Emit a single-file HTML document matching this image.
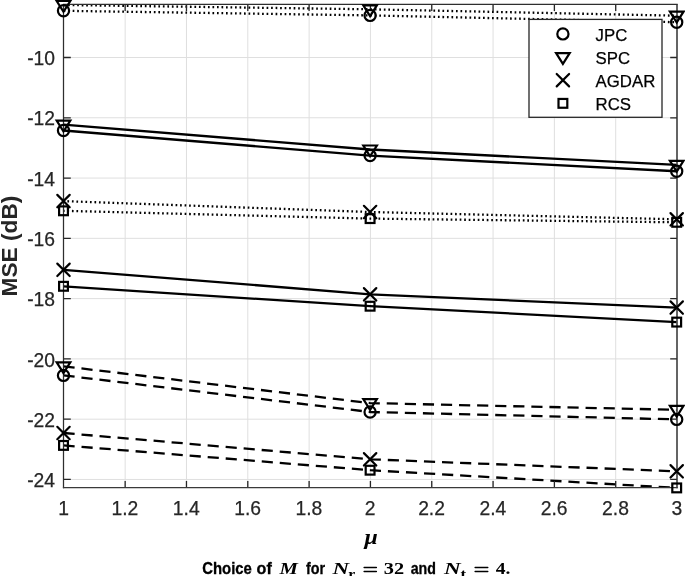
<!DOCTYPE html><html><head><meta charset="utf-8"><style>html,body{margin:0;padding:0;background:#fff;width:685px;height:576px;overflow:hidden}svg{display:block;will-change:transform}text{font-family:"Liberation Sans",sans-serif}</style></head><body>
<svg width="685" height="576" viewBox="0 0 685 576">
<rect width="685" height="576" fill="#fff"/>
<path d="M125.15 4.3V487.6M186.47 4.3V487.6M247.79 4.3V487.6M309.11 4.3V487.6M370.43 4.3V487.6M431.75 4.3V487.6M493.07 4.3V487.6M554.39 4.3V487.6M615.71 4.3V487.6M63.5 57.50H676.7M63.5 117.78H676.7M63.5 178.06H676.7M63.5 238.34H676.7M63.5 298.62H676.7M63.5 358.90H676.7M63.5 419.18H676.7M63.5 479.46H676.7" stroke="#dfdfdf" stroke-width="1" fill="none"/>
<defs><clipPath id="ax"><rect x="63.5" y="4.3" width="613.2" height="483.3"/></clipPath></defs>
<g fill="none" stroke="#000" stroke-width="2.3" clip-path="url(#ax)">
<polyline points="63.50,5.00 370.10,9.30 676.70,15.70" stroke-dasharray="1.7 2.81" stroke-dashoffset="-0.15"/>
<polyline points="63.50,10.80 370.10,15.40 676.70,22.20" stroke-dasharray="1.7 2.81" stroke-dashoffset="-0.15"/>
<polyline points="63.50,124.70 370.10,149.50 676.70,164.85"/>
<polyline points="63.50,130.50 370.10,155.60 676.70,171.25"/>
<polyline points="63.50,201.10 370.10,212.00 676.70,219.30" stroke-dasharray="1.7 2.81" stroke-dashoffset="0.60"/>
<polyline points="63.50,210.80 370.10,218.60 676.70,222.30" stroke-dasharray="1.7 2.81" stroke-dashoffset="0.60"/>
<polyline points="63.50,269.80 370.10,294.30 676.70,307.60"/>
<polyline points="63.50,286.30 370.10,306.20 676.70,322.10"/>
<polyline points="63.50,366.30 370.10,403.10 676.70,409.80" stroke-dasharray="11.17 6.91"/>
<polyline points="63.50,375.40 370.10,412.00 676.70,419.40" stroke-dasharray="11.17 6.91"/>
<polyline points="63.50,433.00 370.10,459.30 676.70,471.30" stroke-dasharray="11.17 6.91"/>
<polyline points="63.50,445.40 370.10,470.20 676.70,487.90" stroke-dasharray="11.17 6.91"/>
</g>
<path d="M125.15 487.6v-6.7M125.15 4.4v6.7M186.47 487.6v-6.7M186.47 4.4v6.7M247.79 487.6v-6.7M247.79 4.4v6.7M309.11 487.6v-6.7M309.11 4.4v6.7M370.43 487.6v-6.7M370.43 4.4v6.7M431.75 487.6v-6.7M431.75 4.4v6.7M493.07 487.6v-6.7M493.07 4.4v6.7M554.39 487.6v-6.7M554.39 4.4v6.7M615.71 487.6v-6.7M615.71 4.4v6.7M63.5 57.50h7.3M677 57.50h-6.8M63.5 117.78h7.3M677 117.78h-6.8M63.5 178.06h7.3M677 178.06h-6.8M63.5 238.34h7.3M677 238.34h-6.8M63.5 298.62h7.3M677 298.62h-6.8M63.5 358.90h7.3M677 358.90h-6.8M63.5 419.18h7.3M677 419.18h-6.8M63.5 479.46h7.3M677 479.46h-6.8" stroke="#262626" stroke-width="1.3" fill="none"/>
<path d="M63.5 4.3V488.25" stroke="#2e2e2e" stroke-width="1.25" fill="none"/>
<path d="M677.0 4.3V488.25" stroke="#303030" stroke-width="1.5" fill="none"/>
<path d="M62.9 487.6H677.7" stroke="#3a3a3a" stroke-width="1.35" fill="none"/>
<path d="M62.9 4.4H677.7" stroke="#2e2e2e" stroke-width="1.3" fill="none"/>
<g fill="none" stroke="#000" stroke-width="2.2">
<path d="M56.70 1.00H70.30L63.50 11.80Z"/>
<path d="M363.30 5.30H376.90L370.10 16.10Z"/>
<path d="M669.90 11.70H683.50L676.70 22.50Z"/>
<circle cx="63.50" cy="10.80" r="5.6"/>
<circle cx="370.10" cy="15.40" r="5.6"/>
<circle cx="676.70" cy="22.20" r="5.6"/>
<path d="M56.70 120.70H70.30L63.50 131.50Z"/>
<path d="M363.30 145.50H376.90L370.10 156.30Z"/>
<path d="M669.90 160.85H683.50L676.70 171.65Z"/>
<circle cx="63.50" cy="130.50" r="5.6"/>
<circle cx="370.10" cy="155.60" r="5.6"/>
<circle cx="676.70" cy="171.25" r="5.6"/>
<path stroke-linecap="round" d="M57.30 194.90L69.70 207.30M57.30 207.30L69.70 194.90"/>
<path stroke-linecap="round" d="M363.90 205.80L376.30 218.20M363.90 218.20L376.30 205.80"/>
<path stroke-linecap="round" d="M670.50 213.10L682.90 225.50M670.50 225.50L682.90 213.10"/>
<rect x="59.10" y="206.40" width="8.8" height="8.8"/>
<rect x="365.70" y="214.20" width="8.8" height="8.8"/>
<rect x="672.30" y="217.90" width="8.8" height="8.8"/>
<path stroke-linecap="round" d="M57.30 263.60L69.70 276.00M57.30 276.00L69.70 263.60"/>
<path stroke-linecap="round" d="M363.90 288.10L376.30 300.50M363.90 300.50L376.30 288.10"/>
<path stroke-linecap="round" d="M670.50 301.40L682.90 313.80M670.50 313.80L682.90 301.40"/>
<rect x="59.10" y="281.90" width="8.8" height="8.8"/>
<rect x="365.70" y="301.80" width="8.8" height="8.8"/>
<rect x="672.30" y="317.70" width="8.8" height="8.8"/>
<path d="M56.70 362.30H70.30L63.50 373.10Z"/>
<path d="M363.30 399.10H376.90L370.10 409.90Z"/>
<path d="M669.90 405.80H683.50L676.70 416.60Z"/>
<circle cx="63.50" cy="375.40" r="5.6"/>
<circle cx="370.10" cy="412.00" r="5.6"/>
<circle cx="676.70" cy="419.40" r="5.6"/>
<path stroke-linecap="round" d="M57.30 426.80L69.70 439.20M57.30 439.20L69.70 426.80"/>
<path stroke-linecap="round" d="M363.90 453.10L376.30 465.50M363.90 465.50L376.30 453.10"/>
<path stroke-linecap="round" d="M670.50 465.10L682.90 477.50M670.50 477.50L682.90 465.10"/>
<rect x="59.10" y="441.00" width="8.8" height="8.8"/>
<rect x="365.70" y="465.80" width="8.8" height="8.8"/>
<rect x="672.30" y="483.50" width="8.8" height="8.8"/>
</g>
<g fill="#262626" font-size="19.3" stroke="#262626" stroke-width="0.25">
<text x="55" y="65.10" text-anchor="end">-10</text>
<text x="55" y="125.38" text-anchor="end">-12</text>
<text x="55" y="185.66" text-anchor="end">-14</text>
<text x="55" y="245.94" text-anchor="end">-16</text>
<text x="55" y="306.22" text-anchor="end">-18</text>
<text x="55" y="366.50" text-anchor="end">-20</text>
<text x="55" y="426.78" text-anchor="end">-22</text>
<text x="55" y="487.06" text-anchor="end">-24</text>
<text x="63.63" y="514.8" text-anchor="middle">1</text>
<text x="124.95" y="514.8" text-anchor="middle">1.2</text>
<text x="186.27" y="514.8" text-anchor="middle">1.4</text>
<text x="247.59" y="514.8" text-anchor="middle">1.6</text>
<text x="308.91" y="514.8" text-anchor="middle">1.8</text>
<text x="370.23" y="514.8" text-anchor="middle">2</text>
<text x="431.55" y="514.8" text-anchor="middle">2.2</text>
<text x="492.87" y="514.8" text-anchor="middle">2.4</text>
<text x="554.19" y="514.8" text-anchor="middle">2.6</text>
<text x="615.51" y="514.8" text-anchor="middle">2.8</text>
<text x="676.83" y="514.8" text-anchor="middle">3</text>
</g>
<text transform="translate(17.2,246) rotate(-90)" text-anchor="middle" font-size="22.7" font-weight="bold" fill="#262626">MSE (dB)</text>
<g fill="#000">
<text transform="translate(202.25,573.5) scale(0.9309,1)" style="font-family:'Liberation Sans',sans-serif" font-size="16" font-weight="bold" font-style="normal" stroke="#000" stroke-width="0.3">Choice</text>
<text transform="translate(256.60,573.5) scale(1.0069,1)" style="font-family:'Liberation Sans',sans-serif" font-size="16" font-weight="bold" font-style="normal" stroke="#000" stroke-width="0.3">of</text>
<text transform="translate(279.56,573.5) scale(1.2953,1)" style="font-family:'Liberation Serif',serif" font-size="16" font-weight="bold" font-style="italic">M</text>
<text transform="translate(305.93,573.5) scale(0.8990,1)" style="font-family:'Liberation Sans',sans-serif" font-size="16" font-weight="bold" font-style="normal" stroke="#000" stroke-width="0.3">for</text>
<text transform="translate(332.54,573.5) scale(1.3534,1)" style="font-family:'Liberation Serif',serif" font-size="17" font-weight="bold" font-style="italic">N</text>
<text transform="translate(348.37,577.9) scale(1.3217,1)" style="font-family:'Liberation Serif',serif" font-size="12" font-weight="bold" font-style="normal">r</text>
<text transform="translate(383.84,573.5) scale(1.2721,1)" style="font-family:'Liberation Serif',serif" font-size="16" font-weight="bold" font-style="normal">32</text>
<text transform="translate(410.66,573.5) scale(0.8885,1)" style="font-family:'Liberation Sans',sans-serif" font-size="16" font-weight="bold" font-style="normal" stroke="#000" stroke-width="0.3">and</text>
<text transform="translate(443.94,573.5) scale(1.3612,1)" style="font-family:'Liberation Serif',serif" font-size="17" font-weight="bold" font-style="italic">N</text>
<text transform="translate(460.59,577.9) scale(1.4020,1)" style="font-family:'Liberation Serif',serif" font-size="12" font-weight="bold" font-style="normal">t</text>
<text transform="translate(495.65,573.5) scale(1.2252,1)" style="font-family:'Liberation Serif',serif" font-size="16" font-weight="bold" font-style="normal">4.</text>
</g>
<g stroke="#000" stroke-width="1.5" stroke-linecap="round">
<path d="M364.15 567.5H376.35M364.15 571.5H376.35"/>
<path d="M475.15 567.5H487.75M475.15 571.5H487.75"/>
</g>
<g fill="#000">
<text transform="translate(364.54,544) scale(1.0857,1)" style="font-family:'Liberation Serif',serif" font-size="22" font-weight="bold" font-style="italic">μ</text>
</g>
<rect x="529" y="19.4" width="133" height="97.9" fill="#fff" stroke="#262626" stroke-width="1.3"/>
<g fill="none" stroke="#000" stroke-width="2.2">
<circle cx="562.90" cy="33.90" r="5.6"/>
<path d="M556.10 53.05H569.70L562.90 63.85Z"/>
<path stroke-linecap="round" d="M556.70 74.00L569.10 86.40M556.70 86.40L569.10 74.00"/>
<rect x="558.50" y="98.95" width="8.8" height="8.8"/>
</g>
<g fill="#000" font-size="16.8" stroke="#000" stroke-width="0.25">
<text x="595.6" y="40.70">JPC</text>
<text x="595.6" y="63.85">SPC</text>
<text x="595.6" y="87.00">AGDAR</text>
<text x="595.6" y="110.15">RCS</text>
</g>
</svg></body></html>
